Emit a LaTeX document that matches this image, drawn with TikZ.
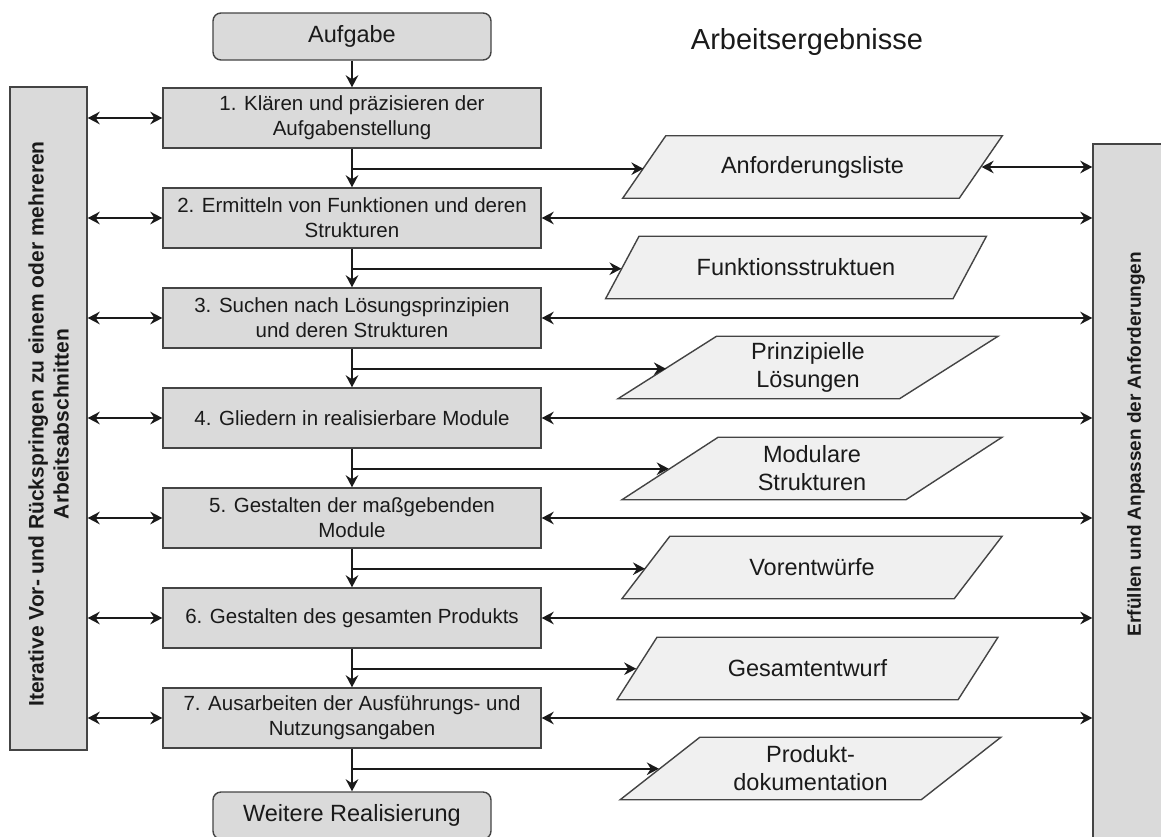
\documentclass[tikz,border=0pt]{standalone}
\usepackage{fontspec}
\setmainfont{Liberation Sans}
\usetikzlibrary{arrows.meta,shapes.geometric,calc}

\definecolor{boxfill}{HTML}{DADADA}
\definecolor{resfill}{HTML}{F0F0F0}
\definecolor{edge}{HTML}{444444}
\definecolor{ink}{HTML}{1A1A1A}

\tikzset{
  tip/.tip={Stealth[length=12pt,width=12.5pt,inset=4pt]},
  flow/.style={draw=ink,line width=2.4pt,-tip},
  twoway/.style={draw=ink,line width=2.4pt,tip-tip},
  stepbox/.style={rectangle,draw=edge,fill=boxfill,line width=1.4pt,
    minimum width=378pt,minimum height=60pt,align=center,text=ink,
    font=\fontsize{20.5}{25}\selectfont,inner sep=0pt},
  termbox/.style={rectangle,rounded corners=8pt,draw=edge,fill=boxfill,
    line width=1.4pt,minimum width=278pt,minimum height=47pt,text=ink,
    font=\fontsize{23.5}{28}\selectfont,inner sep=0pt},
  result/.style={trapezium,trapezium left angle=39.2,trapezium right angle=140.8,
    trapezium stretches=true,draw=edge,fill=resfill,line width=1.4pt,
    minimum width=381pt,minimum height=62.5pt,align=center,text=ink,
    font=\fontsize{23.5}{28}\selectfont,inner sep=0pt},
  sidebar/.style={rectangle,draw=edge,fill=boxfill,line width=1.4pt,inner sep=0pt},
  bartext/.style={rotate=90,align=center,text=ink,inner sep=0pt,
    font=\bfseries\fontsize{21}{25}\selectfont},
}

\begin{document}
\begin{tikzpicture}[x=1pt,y=-1pt]
\useasboundingbox (0,0) rectangle (1161,836);

% side bars
\node[sidebar,minimum width=77pt,minimum height=663pt] (lbar) at (48.5,418.5) {};
\node[bartext] (ltext) at (48.5,424) {Iterative Vor- und Rückspringen zu einem oder mehreren\\Arbeitsabschnitten};
\node[sidebar,minimum width=77pt,minimum height=706pt] (rbar) at (1131.5,497) {};
\node[bartext,font=\bfseries\fontsize{19}{23}\selectfont] (rtext) at (1136,444) {Erfüllen und Anpassen der Anforderungen};

% title of the result column
\node[anchor=base,text=ink,font=\fontsize{29}{34}\selectfont] (title) at (807,49) {Arbeitsergebnisse};

% start and end
\node[termbox] (auf) at (352,36.5) {Aufgabe};
\node[termbox] (wr) at (352,815.5) {Weitere Realisierung};

% working steps
\node[stepbox] (s1) at (352,118) {1. Klären und präzisieren der\\Aufgabenstellung};
\node[stepbox] (s2) at (352,218) {2. Ermitteln von Funktionen und deren\\Strukturen};
\node[stepbox] (s3) at (352,318) {3. Suchen nach Lösungsprinzipien\\und deren Strukturen};
\node[stepbox] (s4) at (352,418) {4. Gliedern in realisierbare Module};
\node[stepbox] (s5) at (352,518) {5. Gestalten der maßgebenden\\Module};
\node[stepbox] (s6) at (352,618) {6. Gestalten des gesamten Produkts};
\node[stepbox] (s7) at (352,718) {7. Ausarbeiten der Ausführungs- und\\Nutzungsangaben};

% results
\node[result] (r1) at (812.5,167) {Anforderungsliste};
\node[result] (r2) at (796,267.5) {Funktionsstruktuen};
\node[result] (r3) at (808,367.5) {Prinzipielle\\Lösungen};
\node[result] (r4) at (812,468.5) {Modulare\\Strukturen};
\node[result] (r5) at (812,567.5) {Vorentwürfe};
\node[result] (r6) at (807.5,668.5) {Gesamtentwurf};
\node[result] (r7) at (810.5,768.5) {Produkt-\\dokumentation};

% main flow
\draw[flow] (auf) -- (s1);
\draw[flow] (s1) -- (s2);
\draw[flow] (s2) -- (s3);
\draw[flow] (s3) -- (s4);
\draw[flow] (s4) -- (s5);
\draw[flow] (s5) -- (s6);
\draw[flow] (s6) -- (s7);
\draw[flow] (s7) -- (wr);

% branches to the results
\foreach \i in {1,...,7}{
  \coordinate (b\i) at ($(s\i.south)+(0,20)$);
  \draw[flow] (b\i) -- (b\i -| r\i.left side);
}

% links to the left bar
\foreach \i in {1,...,7}{
  \draw[twoway] (lbar.east |- s\i.west) -- (s\i.west);
}

% links to the right bar
\draw[twoway] (r1.right side) -- (rbar.west |- r1.right side);
\foreach \i in {2,...,7}{
  \draw[twoway] (s\i.east) -- (rbar.west |- s\i.east);
}
\end{tikzpicture}
\end{document}
